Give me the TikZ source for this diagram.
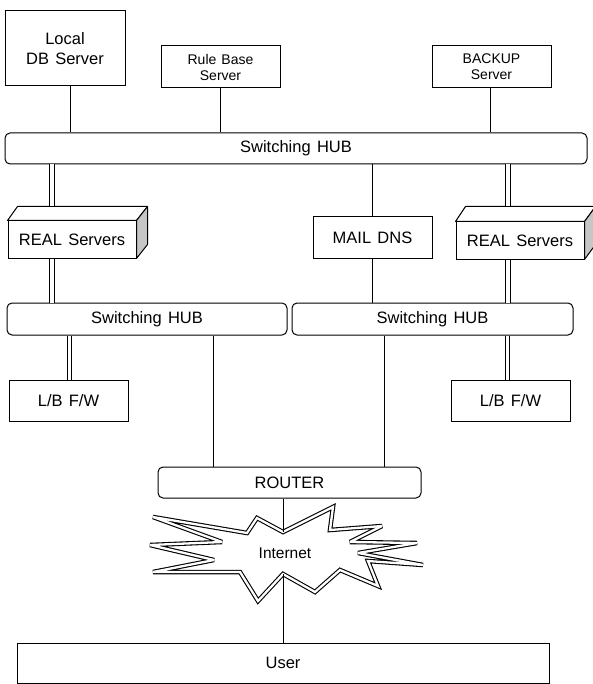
\documentclass[tikz,border=0pt]{standalone}
\usepackage{fontspec}
\setmainfont{Liberation Sans}
\tikzset{
  box/.style={draw, line width=1pt, inner sep=0pt, align=center, fill=white,
    font={\fontsize{16.5}{20}\selectfont\spaceskip=0.38em plus 0.1em}},
  smallbox/.style={box, font={\fontsize{14}{16}\selectfont\spaceskip=0.36em plus 0.1em}},
  hub/.style={box, rounded corners=5pt},
  link/.style={line width=1pt},
  dbl/.style={draw, line width=1pt, double=white, double distance=3.4pt},
  face/.style={draw, line width=1pt, line join=round, fill=white},
  sideface/.style={face, fill=gray!45},
  cloud/.style={double, double distance=2.3pt, line width=1.1pt, line join=miter, miter limit=3}
}
\begin{document}
\begin{tikzpicture}[x=1pt,y=-1pt]
\useasboundingbox (0,0) rectangle (592,684);

% top servers
\node[box, minimum width=120pt, minimum height=75pt] (localdb) at (65,48.5) {Local\\DB Server};
\node[smallbox, minimum width=119pt, minimum height=42pt] (rule) at (220.5,67) {Rule Base\\Server};
\node[smallbox, minimum width=119pt, minimum height=42pt] (backup) at (491.5,67) {BACKUP\\Server};

% hubs
\node[hub, minimum width=582pt, minimum height=31pt] (hub1) at (296,148.5) {Switching HUB};
\node[hub, minimum width=280pt, minimum height=32pt] (hub2) at (147,319) {Switching HUB};
\node[hub, minimum width=281pt, minimum height=32pt] (hub3) at (432.5,319) {Switching HUB};

% middle servers
\node[box, minimum width=128pt, minimum height=37pt] (realL) at (72,239.5) {REAL Servers};
\node[box, minimum width=119pt, minimum height=41pt] (mail) at (372.5,237.5) {MAIL DNS};
\node[box, minimum width=128pt, minimum height=37pt] (realR) at (520,240.5) {REAL Servers};

% 3D faces
\draw[face] (realL.north west) -- ++(10,-14) -- ([shift={(11,-14)}]realL.north east) -- (realL.north east) -- cycle;
\draw[sideface] (realL.north east) -- ++(11,-14) -- ([shift={(11,-14)}]realL.south east) -- (realL.south east) -- cycle;
\draw[face] (realR.north west) -- ++(10,-15) -- ([shift={(11,-15)}]realR.north east) -- (realR.north east) -- cycle;
\draw[sideface] (realR.north east) -- ++(11,-15) -- ([shift={(11,-15)}]realR.south east) -- (realR.south east) -- cycle;

% firewalls, router, user
\node[box, minimum width=119pt, minimum height=41pt] (lb1) at (68.5,400.5) {L/B F/W};
\node[box, minimum width=119pt, minimum height=41pt] (lb2) at (510.5,400.5) {L/B F/W};
\node[hub, minimum width=263pt, minimum height=31pt] (router) at (289.5,482.5) {ROUTER};
\node[box, minimum width=532pt, minimum height=40pt] (user) at (283,663) {User};

% internet star
\draw[cloud, fill=white] (283,532) -- (333,507) -- (330,530) -- (382,526) -- (350,542) -- (417,543)
  -- (358,553) -- (423,565) -- (368,561) -- (378,586) -- (340,570) -- (315,592)
  -- (283,574) -- (258,601) -- (240,572) -- (153,572) -- (214,560) -- (150,545)
  -- (222,542) -- (153,517) -- (247,533) -- (257,518) -- cycle;
\coordinate (inettop) at (283,532);
\coordinate (inetbot) at (283,574);
\node[font={\fontsize{15.5}{18}\selectfont}, inner sep=0pt] (inet) at (285,553) {Internet};

% connectors top
\draw[link] ([xshift=5pt]localdb.south) -- ([xshift=5pt]localdb.south |- hub1.north);
\draw[link] (rule.south) -- (rule.south |- hub1.north);
\draw[link] ([xshift=-1.5pt]backup.south) -- ([xshift=-1.5pt]backup.south |- hub1.north);

% hub1 to middle
\coordinate (rlt) at ([xshift=-20pt,yshift=14pt]realL.north);
\coordinate (rlb) at ([xshift=-20pt]realL.south);
\coordinate (rrt) at ([xshift=-12pt,yshift=15pt]realR.north);
\coordinate (rrb) at ([xshift=-12pt]realR.south);
\draw[dbl] (rlt) -- (rlt |- hub1.south);
\draw[dbl] (rlb) -- (rlb |- hub2.north);
\draw[link] (mail.north) -- (mail.north |- hub1.south);
\draw[link] (mail.south) -- (mail.south |- hub3.north);
\draw[dbl] (rrt) -- (rrt |- hub1.south);
\draw[dbl] (rrb) -- (rrb |- hub3.north);

% lower hubs
\coordinate (l1t) at ([xshift=1pt]lb1.north);
\coordinate (l2t) at ([xshift=-3pt]lb2.north);
\draw[dbl] (l1t) -- (l1t |- hub2.south);
\draw[dbl] (l2t) -- (l2t |- hub3.south);
\draw[link] ([xshift=66pt]hub2.south) -- ([xshift=66pt]hub2.south |- router.north);
\draw[link] ([xshift=-48.5pt]hub3.south) -- ([xshift=-48.5pt]hub3.south |- router.north);

% router - internet - user
\draw[link] (router.south -| inettop) -- (inettop);
\draw[link] (inetbot) -- (inetbot |- user.north);
\end{tikzpicture}
\end{document}
